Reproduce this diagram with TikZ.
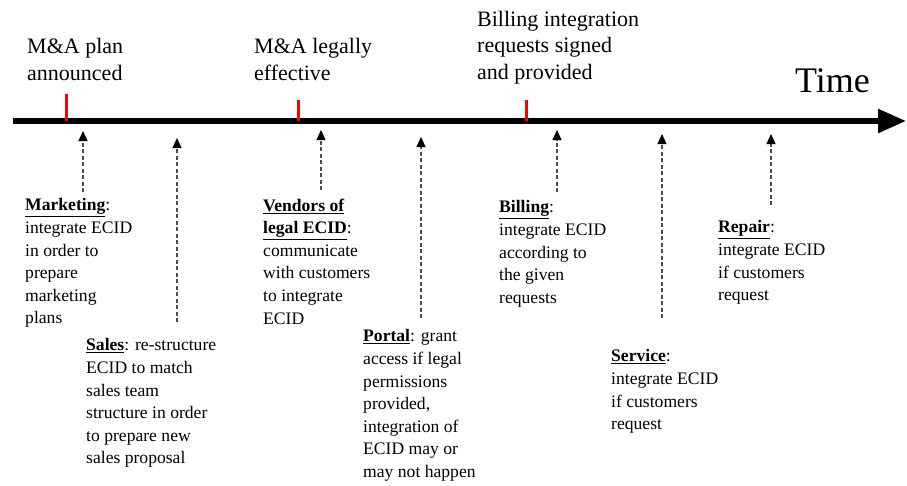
\documentclass[tikz,border=0pt]{standalone}
\usepackage{fontspec}
\setmainfont{Liberation Serif}
\usetikzlibrary{arrows.meta}
\begin{document}
\begin{tikzpicture}[x=1pt,y=-1pt,
  note/.style={anchor=north west,inner sep=0pt,align=left,font=\fontsize{17.6}{22.6}\selectfont},
  event/.style={anchor=north west,inner sep=0pt,align=left,font=\fontsize{22}{26.5}\selectfont},
  dep/.style={dash pattern=on 4pt off 2.5pt,black!70,line width=1.1pt,-{Triangle[length=10pt,width=9pt,black]}}]
\useasboundingbox (0,0) rectangle (907,485);
% time axis
\coordinate (start) at (13,121);
\coordinate (end) at (906,121);
\draw[line width=5.5pt,-{Triangle[length=28pt,width=23pt]}] (start) -- (end);
\node[anchor=base west,inner sep=0pt,font=\fontsize{36}{40}\selectfont] (time) at (795,92) {Time};
% milestones
\coordinate (m1) at (66,121);
\coordinate (m2) at (298,121);
\coordinate (m3) at (526,121);
\draw[red,line width=3pt] (66,94) -- (m1);
\draw[red,line width=3pt] (298,100) -- (m2);
\draw[red,line width=3pt] (526,100) -- (m3);
\node[event] (plan) at (27,38.5) {M\&A plan\\announced};
\node[event] (legal) at (254,38.5) {M\&A legally\\effective};
\node[event] (billreq) at (477,11) {Billing integration\\requests signed\\and provided};
% departments
\node[note] (mkt) at (25,198.5) {\underline{\textbf{Marketing}}:\\integrate ECID\\in order to\\prepare\\marketing\\plans};
\node[note] (sales) at (86,338.5) {\underline{\textbf{Sales}}: re-structure\\ECID to match\\sales team\\structure in order\\to prepare new\\sales proposal};
\node[note] (vend) at (263,198.5) {\underline{\textbf{Vendors of}}\\\underline{\textbf{legal ECID}}:\\communicate\\with customers\\to integrate\\ECID};
\node[note] (portal) at (363,329.5) {\underline{\textbf{Portal}}: grant\\access if legal\\permissions\\provided,\\integration of\\ECID may or\\may not happen};
\node[note] (bill) at (499,200.5) {\underline{\textbf{Billing}}:\\integrate ECID\\according to\\the given\\requests};
\node[note] (serv) at (611,349.5) {\underline{\textbf{Service}}:\\integrate ECID\\if customers\\request};
\node[note] (rep) at (718,220.5) {\underline{\textbf{Repair}}:\\integrate ECID\\if customers\\request};
% arrows up to the axis
\coordinate (a1) at (83,131);
\coordinate (a2) at (177,138);
\coordinate (a3) at (321,130);
\coordinate (a4) at (421,137);
\coordinate (a5) at (557,130);
\coordinate (a6) at (662,134);
\coordinate (a7) at (771,134);
\draw[dep,shorten <=6.5pt] (mkt.north -| a1) -- (a1);
\draw[dep,shorten <=16.5pt] (sales.north -| a2) -- (a2);
\draw[dep,shorten <=8.5pt] (vend.north -| a3) -- (a3);
\draw[dep,shorten <=11.5pt] (portal.north -| a4) -- (a4);
\draw[dep,shorten <=8.5pt] (bill.north -| a5) -- (a5);
\draw[dep,shorten <=31.5pt] (serv.north -| a6) -- (a6);
\draw[dep,shorten <=15.5pt] (rep.north -| a7) -- (a7);
\end{tikzpicture}
\end{document}
